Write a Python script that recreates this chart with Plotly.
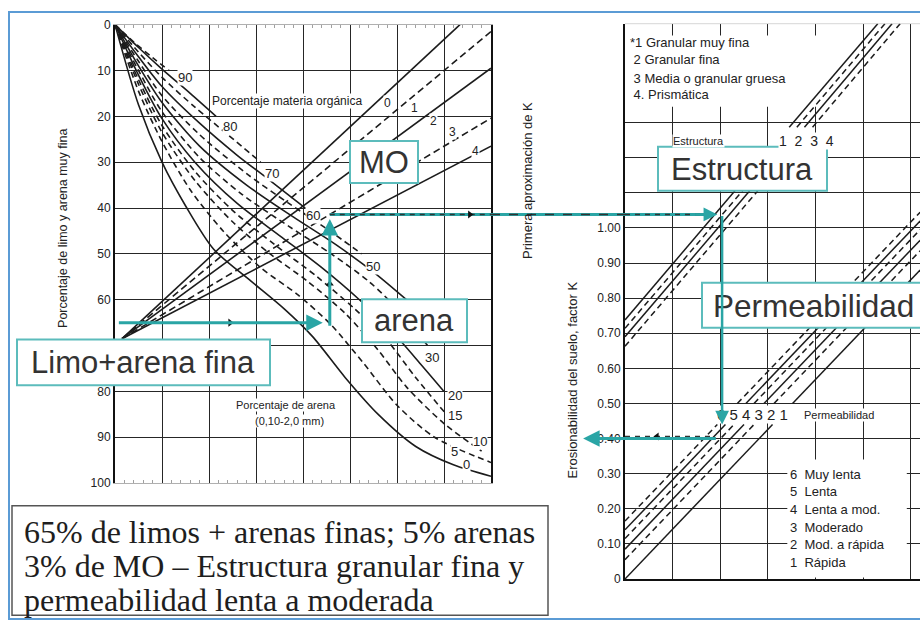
import plotly.graph_objects as go

# ---------------- page / panel geometry (pixels) ----------------
FIG_W, FIG_H = 920, 628
LX0, LX1, LY0, LY1 = 115, 491, 18, 487      # left nomograph plot area
RX0, RX1, RY0, RY1 = 625, 920, 17, 585      # right nomograph plot area
R_COL_PX, R_K_PX = 47.6, 359.0              # right chart: px per grid column / per unit of K


def px(x):
    return x / FIG_W


def py(y):
    return 1 - y / FIG_H


# ---------------- data ----------------
# 70 sits under the "Limo+arena fina" box, so it carries no label
silt_ticks = [0, 10, 20, 30, 40, 50, 60, 80, 90, 100]
silt_grid = [10, 20, 30, 40, 50, 60, 70, 80, 90]
k_first_ticks = [0, 10, 20, 30, 40, 50, 60, 70]

# sand-percentage curves: (x, silt+vfs %) points along each curve
sand_curves = {
    90: ([0, 4, 8, 11.5], [0, 3.8, 7.2, 10]),
    80: ([0, 5, 10, 16, 21.5], [0, 5, 9.7, 15, 20]),
    70: ([0, 5, 10, 17, 24, 31], [0, 6, 11.5, 18, 24, 30]),
    60: ([0, 5, 10, 18, 26, 33, 40.5], [0, 7, 13.5, 21.5, 28.5, 34, 40]),
    50: ([0, 5, 10, 18, 28, 37, 45, 52.5], [0, 8, 15.5, 24, 32.5, 39, 44.5, 50]),
    40: ([0, 5, 10, 18, 28, 38, 47, 55, 62], [0, 9, 17, 26.5, 35, 42, 48, 54, 60]),
    30: ([0, 5, 10, 18, 27, 37, 46, 54, 61, 66.5], [0, 10, 19, 29, 37, 44, 50, 56, 63, 70]),
    20: ([0, 5, 10, 17, 26, 35, 44, 52, 59, 65, 70], [0, 11, 20.5, 30, 39, 46, 53, 60, 67, 74, 80]),
    15: ([0, 5, 10, 17, 25, 34, 43, 51, 58, 64, 70.5], [0, 12, 22, 32, 40.5, 48, 55, 62, 69, 77, 85]),
    10: ([0, 5, 10, 17, 25, 33, 41, 49, 56, 62, 70, 78], [0, 13, 23.5, 34, 43, 50, 56, 63, 71, 79, 87, 93]),
    5: ([0, 5, 10, 16, 23, 31, 39, 46, 53, 60, 68, 80], [0, 14.5, 25.5, 36, 45, 53, 59, 65.5, 74, 83, 90, 95.5]),
    0: ([0, 5, 10, 15, 21, 29, 36, 42, 49, 56, 64, 72, 80], [0, 17.5, 30, 39.5, 49, 56, 62, 68, 77, 85, 92, 96, 98.5]),
}
sand_dashed = [90, 70, 50, 30, 15, 10, 5]
sand_label_pos = {90: (14.9, 11.5), 80: (24.5, 22.2), 70: (33.4, 32.4), 60: (42.1, 41.6),
                  50: (54.9, 52.7), 30: (67.4, 72.5), 20: (72.3, 80.8), 15: (72.3, 85.3),
                  10: (77.7, 91), 5: (72.3, 93.2), 0: (74.7, 96)}

# organic-matter lines (straight, from a common origin)
om_levels = [0, 1, 2, 3, 4]
om_origin = (1.5, 68.5)
om_end_x = [73.4, 80, 80, 80, 80]
om_end_y = [0, 1.5, 9.5, 20.4, 26.5]
om_dashed = [1, 3]
om_label_pos = [(57.9, 17.1), (63.8, 18.1), (67.7, 21.1), (71.9, 23.5), (76.6, 27.5)]

# right chart: K axis
k_ticks = [0, 0.1, 0.2, 0.3, 0.4, 0.5, 0.6, 0.7, 0.8, 0.9, 1.0, 1.1, 1.2, 1.3]
k_labels = ["0", "0.10", "0.20", "0.30", "0.40", "0.50", "0.60", "0.70", "0.80",
            "0.90", "1.00", "", "", ""]

# structure lines (column, K): lower and upper pieces
structure_classes = [1, 2, 3, 4]
structure_lower = {1: ([0, 2.31], [0.738, 1.106]), 2: ([0, 2.47], [0.714, 1.106]),
                   3: ([0, 2.62], [0.690, 1.106]), 4: ([0, 2.79], [0.663, 1.106])}
structure_upper = {1: ([3.45, 5.31], [1.287, 1.582]), 2: ([3.61, 5.46], [1.287, 1.582]),
                   3: ([3.77, 5.61], [1.287, 1.582]), 4: ([3.94, 5.78], [1.287, 1.582])}

# permeability lines (column, K): lower and upper pieces
perm_classes = [1, 2, 3, 4, 5, 6]
perm_lower = {1: ([0, 3.10], [0.0, 0.44]), 2: ([0, 2.71], [0.055, 0.44]),
              3: ([0, 2.50], [0.085, 0.44]), 4: ([0, 2.29], [0.115, 0.44]),
              5: ([0, 2.11], [0.140, 0.44]), 6: ([0, 1.94], [0.165, 0.44])}
perm_upper = {1: ([3.52, 6.2], [0.50, 0.880]), 2: ([3.13, 6.2], [0.50, 0.935]),
              3: ([2.92, 6.2], [0.50, 0.965]), 4: ([2.71, 6.2], [0.50, 0.995]),
              5: ([2.54, 6.2], [0.50, 1.020]), 6: ([2.36, 6.2], [0.50, 1.045])}
perm_names = ["Muy lenta", "Lenta", "Lenta a mod.", "Moderado", "Mod. a rápida", "Rápida"]

# worked example: 65 % silt + vfs, 5 % sand, 3 % OM, fine granular, slow-moderate
ex_silt = 65
ex_sand_x = 45.7          # crossing with the 5 % sand curve
ex_om_y = 41.4            # crossing with the 3 % OM line
ex_struct_col = 2.04      # crossing with structure line 2
ex_perm_k = 0.44          # crossing with permeability line 4
ex_k = 0.40

# ---------------- styles ----------------
INK = "#1c1c1c"
TEAL = "#2aa5a5"
TEAL_BOX = "#5cbcbc"
FONT = "Liberation Sans, Arial, sans-serif"

fig = go.Figure()

L_XRANGE = [0, 80]
L_YRANGE = [100, 0]
R_XRANGE = [0, (RX1 - RX0) / R_COL_PX]
R_YRANGE = [0, (RY1 - RY0) / R_K_PX]

# example horizontal level in the right chart, aligned with the left one
ex_y_px = LY0 + ex_om_y * (LY1 - LY0) / 100.0
ex_k_first = (RY1 - ex_y_px) / R_K_PX

# --- left chart curves ---
for s, (xs, ys) in sand_curves.items():
    fig.add_trace(go.Scatter(
        x=xs, y=ys, mode="lines", xaxis="x", yaxis="y", hoverinfo="skip",
        line=dict(color=INK, width=1.6, shape="spline", smoothing=0.8,
                  dash="6px,4px" if s in sand_dashed else "solid")))

for i, lev in enumerate(om_levels):
    fig.add_trace(go.Scatter(
        x=[om_origin[0], om_end_x[i]], y=[om_origin[1], om_end_y[i]],
        mode="lines", xaxis="x", yaxis="y", hoverinfo="skip",
        line=dict(color=INK, width=1.6, dash="7px,4px" if lev in om_dashed else "solid")))

# --- right chart lines ---
for c in structure_classes:
    for seg in (structure_lower[c], structure_upper[c]):
        fig.add_trace(go.Scatter(
            x=seg[0], y=seg[1], mode="lines", xaxis="x2", yaxis="y2", hoverinfo="skip",
            line=dict(color=INK, width=1.5, dash="6px,4px" if c % 2 == 0 else "solid")))

for c in perm_classes:
    for seg in (perm_lower[c], perm_upper[c]):
        fig.add_trace(go.Scatter(
            x=seg[0], y=seg[1], mode="lines", xaxis="x2", yaxis="y2", hoverinfo="skip",
            line=dict(color=INK, width=1.5, dash="6px,4px" if c % 2 == 0 else "solid")))

# --- worked example path ---
# dashed reading line at the first-approximation level
fig.add_trace(go.Scatter(x=[ex_sand_x, L_XRANGE[1]], y=[ex_om_y, ex_om_y], mode="lines",
                         xaxis="x", yaxis="y", hoverinfo="skip",
                         line=dict(color=TEAL, width=3)))
fig.add_trace(go.Scatter(x=[ex_sand_x, L_XRANGE[1]], y=[ex_om_y, ex_om_y], mode="lines",
                         xaxis="x", yaxis="y", hoverinfo="skip",
                         line=dict(color="#333", width=1.6, dash="5px,5px")))
fig.add_trace(go.Scatter(x=[0, ex_struct_col - 0.15], y=[ex_k_first, ex_k_first], mode="lines",
                         xaxis="x2", yaxis="y2", hoverinfo="skip",
                         line=dict(color=TEAL, width=3)))
fig.add_trace(go.Scatter(x=[0, ex_struct_col - 0.15], y=[ex_k_first, ex_k_first], mode="lines",
                         xaxis="x2", yaxis="y2", hoverinfo="skip",
                         line=dict(color="#333", width=1.6, dash="5px,5px")))
# original black reading line at the final K
fig.add_trace(go.Scatter(x=[0, ex_struct_col - 0.2], y=[ex_k + 0.006, ex_k + 0.006], mode="lines",
                         xaxis="x2", yaxis="y2", hoverinfo="skip",
                         line=dict(color="#333", width=1.6, dash="5px,5px")))

# small black direction arrows of the original nomograph
fig.add_trace(go.Scatter(x=[24.5, 75.5], y=[ex_silt, ex_om_y], mode="markers", xaxis="x", yaxis="y",
                         hoverinfo="skip", marker=dict(symbol="triangle-right", size=7, color="#111")))
fig.add_trace(go.Scatter(x=[ex_sand_x], y=[56.5], mode="markers", xaxis="x", yaxis="y",
                         hoverinfo="skip", marker=dict(symbol="triangle-up", size=7, color="#111")))
fig.add_trace(go.Scatter(x=[0.67], y=[ex_k + 0.006], mode="markers", xaxis="x2", yaxis="y2",
                         hoverinfo="skip", marker=dict(symbol="triangle-left", size=7, color="#111")))

# ---------------- axes ----------------
grid = dict(showgrid=True, gridcolor="#262626", gridwidth=1.4, zeroline=False)
tickfont = dict(family=FONT, size=12, color="#222")

fig.update_layout(
    width=FIG_W, height=FIG_H, margin=dict(l=0, r=0, t=0, b=0),
    paper_bgcolor="white", plot_bgcolor="white", showlegend=False,
    xaxis=dict(domain=[px(LX0), px(LX1)], range=L_XRANGE, dtick=10, tick0=0,
               showticklabels=False, ticks="", showline=True, linecolor="#b0b0b0",
               linewidth=1, mirror="allticks", anchor="y",
               minor=dict(ticks="inside", ticklen=3, dtick=2, tickcolor="#a0a0a0",
                          showgrid=False), **grid),
    yaxis=dict(domain=[py(LY1), py(LY0)], range=L_YRANGE, tickvals=silt_ticks,
               ticks="", showline=True, linecolor="#111", linewidth=2, mirror=True,
               tickfont=tickfont, anchor="x", showgrid=False, zeroline=False),
    # inner horizontal grid of the left chart (edges stay light)
    yaxis4=dict(overlaying="y", anchor="x", range=L_YRANGE, tickvals=silt_grid,
                showticklabels=False, ticks="", showline=False, **grid),
    yaxis3=dict(overlaying="y", side="right", anchor="x",
                range=[70 - L_YRANGE[0], 70 - L_YRANGE[1]], tickvals=k_first_ticks,
                ticks="", showgrid=False, zeroline=False, showline=False,
                tickfont=dict(family=FONT, size=13, color="#222")),
    xaxis2=dict(domain=[px(RX0), 1.0], range=R_XRANGE, dtick=1, tick0=0,
                showticklabels=False, ticks="", showline=True, linecolor="#111",
                linewidth=2, anchor="y2", **grid),
    yaxis2=dict(domain=[py(RY1), py(RY0)], range=R_YRANGE, tickvals=k_ticks,
                ticktext=k_labels, ticks="", showline=True, linecolor="#111",
                linewidth=2, anchor="x2", tickfont=tickfont, **grid),
)
# keep the grid-only axis in use so that its gridlines are drawn
fig.add_trace(go.Scatter(x=[None], y=[None], xaxis="x", yaxis="y4", hoverinfo="skip",
                         mode="lines"))

shapes = []
# white masks where the right chart has no grid (text areas)
shapes.append(dict(type="rect", xref="x2", yref="y2", x0=0.08, x1=4.6, y0=1.345, y1=1.548,
                   fillcolor="white", line=dict(width=0), layer="between"))
shapes.append(dict(type="rect", xref="x2", yref="y2", x0=3.41, x1=5.92, y0=0.004, y1=0.34,
                   fillcolor="white", line=dict(width=0), layer="between"))
# faint top edge of the right chart
shapes.append(dict(type="line", xref="x2", yref="y2", x0=0, x1=R_XRANGE[1],
                   y0=R_YRANGE[1], y1=R_YRANGE[1], line=dict(color="#b5b5b5", width=1)))
# example level crossing the gap between the charts
shapes.append(dict(type="line", xref="paper", yref="y", x0=px(LX1), x1=px(RX0),
                   y0=ex_om_y, y1=ex_om_y, line=dict(color=TEAL, width=3)))
shapes.append(dict(type="line", xref="paper", yref="y", x0=px(LX1), x1=px(RX0),
                   y0=ex_om_y, y1=ex_om_y, line=dict(color="#333", width=1.6, dash="dash")))
# outer frame
shapes.append(dict(type="rect", xref="paper", yref="paper", x0=px(9), x1=1.05,
                   y0=py(626), y1=py(5), line=dict(color="#5b9bd5", width=2)))

# labelled boxes
boxes = [
    ("MO", 350, 418, 137, 180),
    ("Estructura", 658, 827, 143, 188),
    ("Permeabilidad", 702, 960, 282, 328),
    ("arena", 362, 467, 299, 343),
    ("Limo+arena fina", 17, 270, 340, 387),
]
for _, x0, x1, y0, y1 in boxes:
    shapes.append(dict(type="rect", xref="paper", yref="paper", x0=px(x0), x1=px(x1),
                       y0=py(y1), y1=py(y0), fillcolor="white",
                       line=dict(color=TEAL_BOX, width=2), layer="above"))
shapes.append(dict(type="rect", xref="paper", yref="paper", x0=px(12), x1=px(548),
                   y0=py(622), y1=py(510), fillcolor="white",
                   line=dict(color="#555", width=1.5), layer="above"))
fig.update_layout(shapes=shapes)

ann = []


def text(t, x, y, size=12, anchor="center", angle=0, bg=None, color="#222", family=FONT,
         ref=("paper", "paper")):
    d = dict(text=t, x=x, y=y, xref=ref[0], yref=ref[1], showarrow=False,
             xanchor=anchor, yanchor="middle", textangle=angle,
             font=dict(family=family, size=size, color=color))
    if bg:
        d.update(bgcolor=bg, borderpad=0)
    ann.append(d)


# axis titles
text("Porcentaje de limo y arena muy fina", px(63), py(226), size=12.5, angle=-90)
text("Primera aproximación de K", px(527), py(178), size=13, angle=-90)
text("Erosionabilidad del suelo, factor K", px(572), py(382), size=13, angle=-90)

# box texts
text("MO", px(384), py(159), size=31, color="#333")
text("Estructura", px(742), py(166), size=31, color="#333")
text("Permeabilidad", px(711), py(306), size=31.5, color="#333", anchor="left")
text("arena", px(414), py(321), size=31, color="#333")
text("Limo+arena fina", px(143), py(364), size=31, color="#333")
for i, line in enumerate(["65% de limos + arenas finas; 5% arenas",
                          "3% de MO \u2013 Estructura granular fina y",
                          "permeabilidad lenta a moderada"]):
    text(line, px(22), py(537 + 35 * i), size=32, anchor="left",
         family="Liberation Serif, Times New Roman, serif", color="#1e1e1e")

# left chart labels
for s, (lx, ly) in sand_label_pos.items():
    text(str(s), lx, ly, size=13, bg="white", ref=("x", "y"))
for lev, (lx, ly) in zip(om_levels, om_label_pos):
    text(str(lev), lx, ly, size=12, bg="white", ref=("x", "y"))
text("Porcentaje materia orgánica", px(287), py(96), size=12, bg="white")
text("Porcentaje de arena", px(286), py(407), size=11, bg="white")
text("(0,10-2,0 mm)", px(289), py(423), size=11, bg="white")

# right chart labels
for i, t in enumerate(["*1 Granular muy fina", " 2 Granular fina",
                       " 3 Media o granular gruesa", " 4. Prismática"]):
    text(t, px(628), py([36, 54, 73, 90][i]), size=13, anchor="left")
text("Estructura", px(672), py(137), size=11, anchor="left", bg="white")
text("1  2  3  4", px(778), py(137), size=14, anchor="left", bg="white")
text("6 5 4 3 2 1", px(716), py(417), size=15, anchor="left", bg="white")
text("Permeabilidad", px(803), py(417), size=11, anchor="left", bg="white")
for i, c in enumerate(sorted(perm_classes, reverse=True)):
    text(f"{c}  {perm_names[i]}", px(789), py([478, 496, 514, 532, 550, 568][i]),
         size=13, anchor="left", bg="white")

# teal arrows of the worked example
arrow = dict(showarrow=True, arrowhead=2, arrowsize=1.1, arrowwidth=3, arrowcolor=TEAL,
             standoff=0, startstandoff=0, text="")
ann.append(dict(arrow, x=ex_sand_x - 1.5, y=ex_silt, ax=0.5, ay=ex_silt,
                xref="x", yref="y", axref="x", ayref="y"))
ann.append(dict(arrow, x=ex_sand_x, y=ex_om_y + 1, ax=ex_sand_x, ay=ex_silt + 1,
                xref="x", yref="y", axref="x", ayref="y"))
ann.append(dict(arrow, x=ex_struct_col - 0.1, y=ex_k_first, ax=ex_struct_col - 0.6,
                ay=ex_k_first, xref="x2", yref="y2", axref="x2", ayref="y2", arrowwidth=2.5))
ann.append(dict(arrow, x=ex_struct_col, y=ex_perm_k, ax=ex_struct_col, ay=ex_k_first,
                xref="x2", yref="y2", axref="x2", ayref="y2", arrowwidth=2.5))
ann.append(dict(arrow, x=-0.88, y=ex_k, ax=ex_struct_col - 0.1, ay=ex_k,
                xref="x2", yref="y2", axref="x2", ayref="y2"))

fig.update_layout(annotations=ann)
fig.write_html("out.html")
